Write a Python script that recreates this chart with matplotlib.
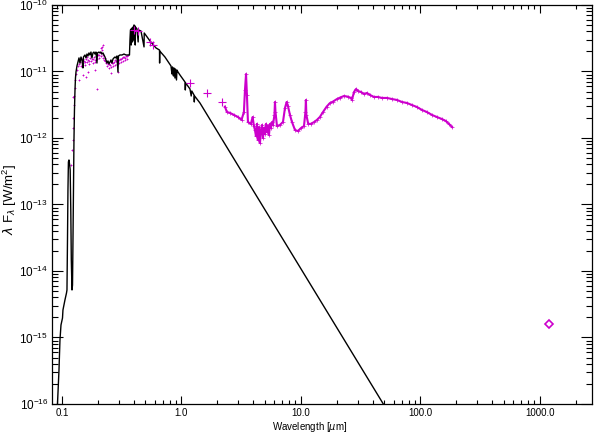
import numpy as np
import matplotlib
matplotlib.use('Agg')
import matplotlib.pyplot as plt
from matplotlib.ticker import LogLocator, FixedLocator, FixedFormatter, NullFormatter

plt.rcParams['font.family'] = ['Liberation Sans', 'DejaVu Sans']
plt.rcParams['mathtext.fontset'] = 'custom'
plt.rcParams['mathtext.rm'] = 'Liberation Sans'
plt.rcParams['mathtext.it'] = 'DejaVu Sans:italic'

# ---------------- data ----------------
# stellar model (black line): wavelength [um], lambda*F_lambda [W/m^2]
model_wl = [0.0905, 0.0917, 0.0944, 0.0962, 0.0981, 0.1010, 0.1019, 0.1059, 0.1091, 0.1101,
            0.1112, 0.1122, 0.1132, 0.1144, 0.1160, 0.1171, 0.1185, 0.1197, 0.1213, 0.1225,
            0.1236, 0.1248, 0.1260, 0.1272, 0.1285, 0.1297, 0.1310, 0.1335,
            0.1361, 0.1388, 0.1414, 0.1442, 0.1470, 0.1498, 0.1513, 0.1557, 0.1588, 0.1619,
            0.1650, 0.1682, 0.1715, 0.1748, 0.1782, 0.1817, 0.1852, 0.1888, 0.1925, 0.1962,
            0.1981, 0.2039, 0.2080, 0.2120, 0.2161, 0.2203, 0.2246, 0.2290, 0.2334, 0.2380,
            0.2426, 0.2473, 0.2522, 0.2570, 0.2621, 0.2672, 0.2723, 0.2776, 0.2831, 0.2886,
            0.2942, 0.2970, 0.3057, 0.3178, 0.3303, 0.3432, 0.3567, 0.3672,
            0.3707, 0.3742, 0.3779, 0.3796, 0.3853, 0.3890, 0.3928, 0.3966, 0.4005, 0.4082,
            0.4102, 0.4121, 0.4243, 0.4340, 0.4374, 0.4583, 0.4860, 0.4880, 0.5449, 0.6119,
            0.6550, 0.6563, 0.6580, 0.7276, 0.8170, 0.8327, 0.8408, 0.8570, 0.8652, 0.8821,
            0.8908, 0.9083, 0.9170, 0.9348, 0.9714, 1.070, 1.077, 1.084, 1.178, 1.206, 1.220,
            1.273, 1.281, 1.288, 1.428, 3.744, 9.81, 55.6]
model_flux = [6.0e-17, 1.0e-16, 3.24e-16, 9.17e-16, 1.54e-15, 1.96e-15, 2.59e-15, 3.67e-15, 4.67e-15, 5.18e-15,
              2.92e-14, 1.65e-13, 4.36e-13, 4.67e-13, 3.93e-13, 3.30e-13, 8.26e-14, 1.46e-14, 5.18e-15, 6.15e-15,
              2.92e-14, 1.65e-13, 9.33e-13, 2.64e-12, 5.27e-12, 7.98e-12, 9.83e-12, 1.21e-11,
              1.39e-11, 1.60e-11, 1.34e-11, 1.65e-11, 1.49e-11, 1.13e-11, 1.65e-11, 1.77e-11, 1.60e-11, 1.83e-11,
              1.71e-11, 1.90e-11, 1.77e-11, 1.96e-11, 1.60e-11, 1.90e-11, 1.96e-11, 1.83e-11, 1.96e-11, 1.34e-11,
              1.90e-11, 1.96e-11, 1.90e-11, 1.96e-11, 1.83e-11, 1.90e-11, 1.77e-11, 1.65e-11, 1.49e-11, 1.34e-11,
              1.44e-11, 1.30e-11, 1.39e-11, 1.49e-11, 1.34e-11, 1.54e-11, 1.60e-11, 1.65e-11, 1.60e-11, 1.71e-11,
              9.83e-12, 1.71e-11, 1.77e-11, 1.77e-11, 1.83e-11, 1.77e-11, 1.77e-11, 1.77e-11,
              2.98e-11, 4.21e-11, 4.34e-11, 2.50e-11, 4.51e-11, 2.78e-11, 4.67e-11, 2.98e-11, 5.00e-11, 4.83e-11,
              2.50e-11, 4.67e-11, 4.36e-11, 2.78e-11, 4.21e-11, 4.06e-11, 2.34e-11, 3.79e-11, 2.88e-11, 2.26e-11,
              2.10e-11, 1.34e-11, 2.03e-11, 1.65e-11, 1.21e-11, 9.17e-12, 1.17e-11, 8.55e-12, 1.13e-11, 7.98e-12,
              1.09e-11, 7.45e-12, 1.05e-11, 9.83e-12, 8.86e-12, 6.95e-12, 5.27e-12, 6.71e-12, 5.46e-12, 4.28e-12, 5.09e-12,
              4.44e-12, 3.48e-12, 4.28e-12, 3.36e-12, 1.95e-13, 1.14e-14, 6.84e-17]

# IUE ultraviolet spectrum (magenta dots)
iue_wl = [0.1189, 0.1213, 0.1225, 0.1236, 0.1248, 0.1260, 0.1272, 0.1285, 0.1297, 0.1310, 0.1335, 0.1361,
          0.1388, 0.1414, 0.1442, 0.1470, 0.1498, 0.1528, 0.1557, 0.1588, 0.1619, 0.1650, 0.1682, 0.1715,
          0.1748, 0.1782, 0.1817, 0.1852, 0.1888, 0.1925, 0.1962, 0.2001, 0.2039, 0.2080, 0.2120, 0.2161,
          0.2203, 0.2246, 0.2290, 0.2334, 0.2380, 0.2426, 0.2473, 0.2522, 0.2570, 0.2621, 0.2672, 0.2723,
          0.2776, 0.2831, 0.2886, 0.2942, 0.2999, 0.3057, 0.3117, 0.3178, 0.3240, 0.3303, 0.3367, 0.3432,
          0.3499, 0.3567,
          0.1401, 0.1456, 0.1513, 0.1572, 0.1634, 0.1698, 0.1765, 0.1834, 0.1906, 0.1981, 0.2060, 0.2140,
          0.2224, 0.2312, 0.2403, 0.2497, 0.2595, 0.2697, 0.2803, 0.2914, 0.3028, 0.3147, 0.3271, 0.3399,
          0.3533,
          0.2161, 0.2203, 0.2120, 0.1498, 0.1650, 0.1888, 0.1588, 0.1962, 0.2570, 0.2942, 0.1388, 0.1236]
iue_flux = [3.93e-13, 6.60e-13, 9.33e-13, 1.41e-12, 2.00e-12, 3.13e-12, 4.28e-12, 5.65e-12, 7.45e-12, 9.17e-12, 1.05e-11, 1.21e-11,
            1.30e-11, 1.39e-11, 1.21e-11, 1.49e-11, 1.34e-11, 1.44e-11, 1.25e-11, 1.54e-11, 1.39e-11, 1.49e-11, 1.30e-11, 1.60e-11,
            1.44e-11, 1.54e-11, 1.34e-11, 1.65e-11, 1.49e-11, 1.71e-11, 1.54e-11, 1.77e-11, 1.60e-11, 1.96e-11, 1.71e-11, 2.10e-11,
            1.77e-11, 1.49e-11, 1.60e-11, 1.34e-11, 1.21e-11, 1.30e-11, 1.13e-11, 1.25e-11, 1.17e-11, 1.34e-11, 1.21e-11, 1.39e-11,
            1.25e-11, 1.44e-11, 1.30e-11, 1.49e-11, 1.34e-11, 1.54e-11, 1.39e-11, 1.60e-11, 1.44e-11, 1.65e-11, 1.49e-11, 1.71e-11,
            1.54e-11, 1.77e-11,
            1.49e-11, 1.60e-11, 1.54e-11, 1.39e-11, 1.65e-11, 1.44e-11, 1.71e-11, 1.54e-11, 1.39e-11, 1.83e-11, 1.77e-11, 1.90e-11,
            1.60e-11, 1.44e-11, 1.39e-11, 1.30e-11, 1.39e-11, 1.34e-11, 1.49e-11, 1.39e-11, 1.49e-11, 1.54e-11, 1.65e-11, 1.60e-11,
            1.71e-11,
            2.34e-11, 2.50e-11, 2.26e-11, 8.86e-12, 9.83e-12, 1.05e-11, 8.27e-12, 5.46e-12, 9.49e-12, 9.83e-12, 7.45e-12, 4.14e-12]

# broad-band photometry (magenta plus signs)
phot_wl = [0.400, 0.435, 0.545, 0.580, 1.19, 1.64, 2.17]
phot_flux = [4.2e-11, 4.06e-11, 2.8e-11, 2.5e-11, 6.6e-12, 4.7e-12, 3.5e-12]

# ISO infrared spectrum
iso_wl = [2.31, 2.40, 2.55, 2.75, 2.97, 3.18, 3.33, 3.40, 3.47, 3.53, 3.60, 3.81, 3.94, 4.04,
          4.12, 4.20, 4.28, 4.36, 4.45, 4.54, 4.63, 4.72, 4.81, 4.90, 5.00, 5.10, 5.19, 5.29, 5.40,
          5.50, 5.61, 5.72, 5.83, 6.00, 6.06, 6.12, 6.30, 6.67, 7.07, 7.35, 7.59, 7.78, 8.09, 8.41,
          8.91, 9.44, 10.0, 10.6, 10.9, 11.0, 11.1, 11.5, 12.1, 12.9, 13.6, 14.4, 15.3, 16.4, 17.5,
          18.5, 20.0, 21.2, 22.9, 24.7, 26.2, 26.7, 27.8, 28.9, 30.0, 31.8, 33.7, 35.6, 37.8, 40.8,
          44.1, 47.6, 52.5, 57.8, 63.6, 70.0, 77.1, 84.9, 93.5, 103, 113, 125, 137, 151, 163, 173, 184]
iso_flux = [2.96e-12, 2.46e-12, 2.38e-12, 2.22e-12, 2.07e-12, 1.87e-12, 2.46e-12, 5.27e-12, 9.16e-12, 4.44e-12,
            1.74e-12, 1.63e-12, 2.07e-12, 1.51e-12,
            1.32e-12, 1.07e-12, 1.63e-12, 9.33e-13, 1.46e-12, 8.41e-13, 1.32e-12, 1.57e-12, 1.00e-12, 1.41e-12,
            1.15e-12, 1.63e-12, 1.23e-12, 1.51e-12, 1.11e-12,
            1.63e-12, 1.41e-12, 1.74e-12, 1.57e-12, 2.22e-12, 3.48e-12, 2.46e-12, 1.51e-12, 1.57e-12, 1.74e-12,
            2.83e-12, 3.48e-12, 3.03e-12, 2.22e-12, 1.74e-12,
            1.32e-12, 1.27e-12, 1.41e-12, 1.51e-12, 2.46e-12, 3.73e-12, 2.22e-12, 1.63e-12, 1.63e-12, 1.74e-12,
            1.87e-12, 2.07e-12, 2.46e-12, 2.96e-12, 3.36e-12,
            3.52e-12, 3.85e-12, 4.04e-12, 4.28e-12, 4.18e-12, 4.00e-12, 3.73e-12, 4.92e-12, 5.46e-12, 5.09e-12,
            4.92e-12, 4.59e-12, 4.75e-12, 4.44e-12, 4.14e-12,
            4.14e-12, 4.00e-12, 4.00e-12, 3.85e-12, 3.73e-12, 3.48e-12, 3.36e-12, 3.13e-12, 2.92e-12, 2.64e-12,
            2.46e-12, 2.22e-12, 2.07e-12, 1.93e-12, 1.80e-12, 1.63e-12, 1.46e-12]

# millimetre point (magenta diamond)
mm_wl = [1197.0]
mm_flux = [1.6e-15]

xtick_vals = [0.1, 1.0, 10.0, 100.0, 1000.0]
xtick_labels = ['0.1', '1.0', '10.0', '100.0', '1000.0']
ytick_vals = [1e-16, 1e-15, 1e-14, 1e-13, 1e-12, 1e-11, 1e-10]
ytick_labels = [r'$10^{-16}$', r'$10^{-15}$', r'$10^{-14}$', r'$10^{-13}$',
                r'$10^{-12}$', r'$10^{-11}$', r'$10^{-10}$']

MAG = '#cc00cc'

# ---------------- plot ----------------
fig = plt.figure(figsize=(5.94, 4.33), dpi=100)
ax = fig.add_axes([0.0870, 0.0670, 0.9091, 0.9215])
ax.set_xscale('log')
ax.set_yscale('log')

ax.plot(iue_wl, iue_flux, ls='none', marker='+', ms=2, mew=0.6, color=MAG, zorder=2)
ax.plot(model_wl, model_flux, color='black', lw=1.0, zorder=3)
ax.plot(phot_wl, phot_flux, ls='none', marker='+', ms=6, mew=0.8, color=MAG, zorder=4)
ax.plot(iso_wl, iso_flux, color=MAG, lw=1.5, marker='+', ms=2.5, mew=0.5, zorder=4)
ax.plot(mm_wl, mm_flux, ls='none', marker='D', ms=4, mfc='none', mew=1.2, color=MAG, zorder=4)

ax.set_xlim(0.082, 2710)
ax.set_ylim(1e-16, 1e-10)

ax.xaxis.set_major_locator(FixedLocator(xtick_vals))
ax.xaxis.set_major_formatter(FixedFormatter(xtick_labels))
ax.xaxis.set_minor_locator(LogLocator(base=10, subs=np.arange(2, 10), numticks=20))
ax.xaxis.set_minor_formatter(NullFormatter())
ax.yaxis.set_major_locator(FixedLocator(ytick_vals))
ax.yaxis.set_major_formatter(FixedFormatter(ytick_labels))
ax.yaxis.set_minor_locator(LogLocator(base=10, subs=np.arange(2, 10), numticks=20))
ax.yaxis.set_minor_formatter(NullFormatter())

ax.tick_params(which='both', direction='in', top=True, right=True, width=0.8, colors='black')
ax.tick_params(axis='x', which='major', length=5.8, labelsize=7, pad=3)
ax.tick_params(axis='x', which='minor', length=2.9)
ax.tick_params(axis='y', which='major', length=8.0, labelsize=8.5, pad=2.5)
ax.tick_params(axis='y', which='minor', length=4.0)
for s in ax.spines.values():
    s.set_linewidth(0.9)

fig.text(310 / 594, 1 - 427 / 433, r'Wavelength [$\mu$m]', ha='center', va='center', fontsize=7)
fig.text(10 / 594, 1 - 199 / 433, r'$\lambda$ F$_\lambda$ [W/m$^2$]', ha='center', va='center',
         rotation=90, fontsize=9.5)

fig.savefig('out.png', dpi=100)
